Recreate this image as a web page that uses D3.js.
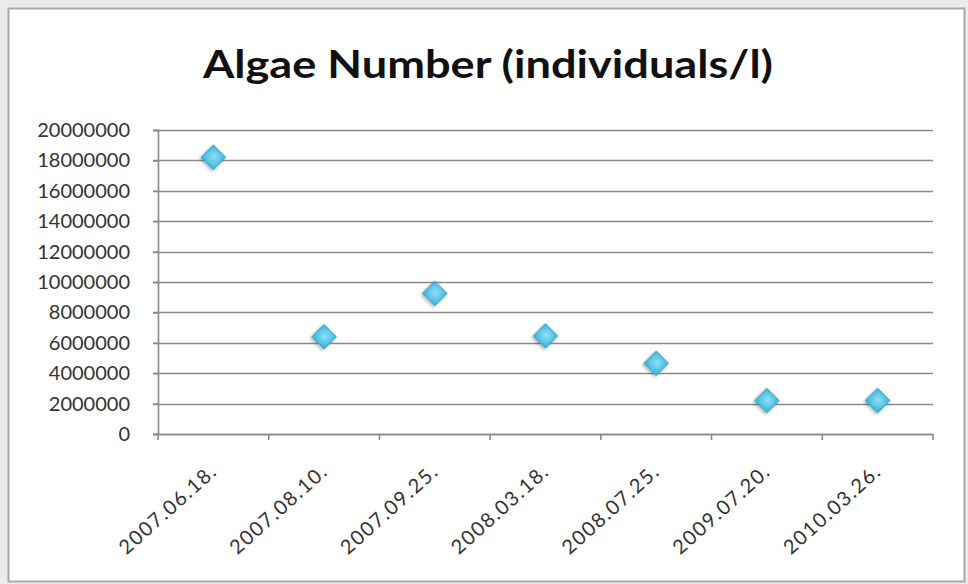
<!DOCTYPE html>
<html>
<head>
<meta charset="utf-8">
<script src="https://cdn.jsdelivr.net/npm/d3@7"></script>
<style>
  html, body { margin: 0; padding: 0; background: #ececec; }
  svg { display: block; }
</style>
</head>
<body>
<svg id="chart" width="968" height="584"></svg>
<script>
// ---- data ----
const categories = ["2007.06.18.", "2007.08.10.", "2007.09.25.", "2008.03.18.", "2008.07.25.", "2009.07.20.", "2010.03.26."];
const algaeValues = [18200000, 6400000, 9250000, 6450000, 4650000, 2200000, 2200000];
const yTickValues = [0, 2000000, 4000000, 6000000, 8000000, 10000000, 12000000, 14000000, 16000000, 18000000, 20000000];
const titleText = "Algae Number (individuals/l)";

(function () {
const svg = d3.select("#chart");
const W = 968, H = 584;

// frame
svg.append("rect").attr("x", 0).attr("y", 0).attr("width", W).attr("height", H).attr("fill", "#ececec");
svg.append("rect").attr("x", 8.5).attr("y", 8.5).attr("width", 956).attr("height", 573)
  .attr("fill", "#ffffff").attr("stroke", "#a8a8a8").attr("stroke-width", 2);

const defs = svg.append("defs");
const grad = defs.append("radialGradient").attr("id", "dg").attr("cx", "50%").attr("cy", "45%").attr("r", "60%");
grad.append("stop").attr("offset", "0%").attr("stop-color", "#8fe0f5");
grad.append("stop").attr("offset", "100%").attr("stop-color", "#45b9dd");
const filt = defs.append("filter").attr("id", "sh").attr("x", "-50%").attr("y", "-50%").attr("width", "200%").attr("height", "200%");
filt.append("feDropShadow").attr("dx", 0).attr("dy", 2).attr("stdDeviation", 1.8)
  .attr("flood-color", "#000").attr("flood-opacity", 0.3);

const pLeft = 158, pRight = 933, pTop = 130, pBottom = 434;

const x = d3.scaleBand().domain(categories).range([pLeft, pRight]).padding(0);
const y = d3.scaleLinear().domain([0, 20000000]).range([pBottom, pTop]);

// gridlines
svg.append("g").selectAll("line").data(yTickValues).join("line")
  .attr("x1", pLeft - 5).attr("x2", pRight)
  .attr("y1", d => Math.round(y(d)) + 0.5).attr("y2", d => Math.round(y(d)) + 0.5)
  .attr("stroke", "#8a8a8a").attr("stroke-width", 1.6);

// y axis
const yAxis = svg.append("g").attr("transform", `translate(${pLeft},0)`)
  .call(d3.axisLeft(y).tickValues(yTickValues).tickFormat(d3.format("d")).tickSize(5).tickPadding(23));
yAxis.select(".domain").attr("stroke", "#8a8a8a").attr("stroke-width", 1.6);
yAxis.selectAll(".tick line").attr("stroke", "#8a8a8a").attr("stroke-width", 1.6);
yAxis.selectAll("text").attr("font-family", "Lato, sans-serif").attr("font-size", 20).attr("fill", "#333");

// x axis
const xAxis = svg.append("g").attr("transform", `translate(0,${pBottom})`)
  .call(d3.axisBottom(x).tickSize(0).tickFormat(""));
xAxis.select(".domain").attr("d", `M${pLeft - 5},0.5H${pRight}`).attr("stroke", "#8a8a8a").attr("stroke-width", 1.6);
const bounds = categories.map(c => x(c)).concat([x(categories[categories.length - 1]) + x.bandwidth()]);
xAxis.selectAll(".bt").data(bounds).join("line").attr("class", "bt")
  .attr("x1", d => d).attr("x2", d => d).attr("y1", 0).attr("y2", 6)
  .attr("stroke", "#8a8a8a").attr("stroke-width", 1.6);
svg.append("g").selectAll("text").data(categories).join("text")
  .attr("transform", d => `translate(${x(d) + x.bandwidth() / 2 + 5},${pBottom + 39}) rotate(-42)`)
  .attr("text-anchor", "end")
  .attr("font-family", "Lato, sans-serif").attr("font-size", 20).attr("letter-spacing", 1.5)
  .attr("fill", "#333")
  .text(d => d);

// points
svg.append("g").selectAll("path").data(algaeValues).join("path")
  .attr("d", d3.symbol(d3.symbolSquare, 300))
  .attr("transform", (d, i) => `translate(${x(categories[i]) + x.bandwidth() / 2},${y(d)}) rotate(45)`)
  .attr("fill", "url(#dg)").attr("stroke", "#3a9fc2").attr("stroke-width", 1)
  .attr("filter", "url(#sh)");

// title
svg.append("text").attr("x", 488).attr("y", 78).attr("text-anchor", "middle")
  .attr("font-family", "Lato, sans-serif").attr("font-weight", "bold").attr("font-size", 39)
  .attr("fill", "#111")
  .attr("textLength", 570).attr("lengthAdjust", "spacingAndGlyphs")
  .text(titleText);
})();
</script>
</body>
</html>
